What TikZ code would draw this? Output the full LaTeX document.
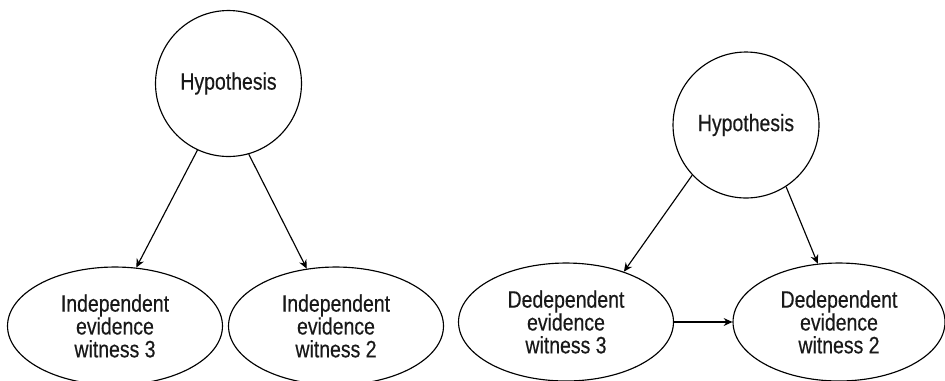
\documentclass[tikz,border=0pt]{standalone}
\usepackage{fontspec}
\setmainfont{Liberation Sans}[FakeStretch=0.82,FakeBold=0.4]
\usetikzlibrary{shapes.geometric,arrows.meta}
\tikzset{
    % the hypothesis bubble
    hypothesis/.style={
        draw=black,
        circle,
        minimum size=2.92cm,
        inner sep=0pt,
        line width=0.65pt,
        text=black!90,
        font=\fontsize{13.5}{13}\selectfont
    },
    % an evidence / witness bubble
    evidence/.style={
        draw=black,
        ellipse,
        minimum width=4.3cm,
        minimum height=2.36cm,
        inner sep=0pt,
        line width=0.65pt,
        align=center,
        text=black!90,
        font=\fontsize{13.5}{13}\selectfont
    },
    link/.style={
        -{Stealth[length=5pt,width=4.5pt]},
        line width=0.65pt
    }
}
\begin{document}
\begin{tikzpicture}[x=0.02cm,y=-0.02cm]
        \useasboundingbox (0,0) rectangle (945,380);
        \clip (0,0) rectangle (945,380);

        % --- left: independent witnesses ---
        \node[hypothesis] (hypL) at (228.5,83.5) {Hypothesis};
        \node[evidence] (indThree) at (115,326) {Independent\\evidence\\witness 3};
        \node[evidence] (indTwo)   at (336,326) {Independent\\evidence\\witness 2};

        \draw[link] (hypL.245) -- (indThree.70);
        \draw[link] (hypL.-74) -- (indTwo.117);

        % --- right: dependent witnesses ---
        \node[hypothesis] (hypR) at (746,125) {Hypothesis};
        \node[evidence] (depThree) at (566,322) {Dedependent\\evidence\\witness 3};
        \node[evidence, minimum width=4.24cm] (depTwo) at (839,322) {Dedependent\\evidence\\witness 2};

        \draw[link] (hypR.223) -- (depThree.41);
        \draw[link] (hypR.-57) -- (depTwo.110);
        \draw[link] (depThree.east) -- (depTwo.west);
    \end{tikzpicture}
\end{document}
